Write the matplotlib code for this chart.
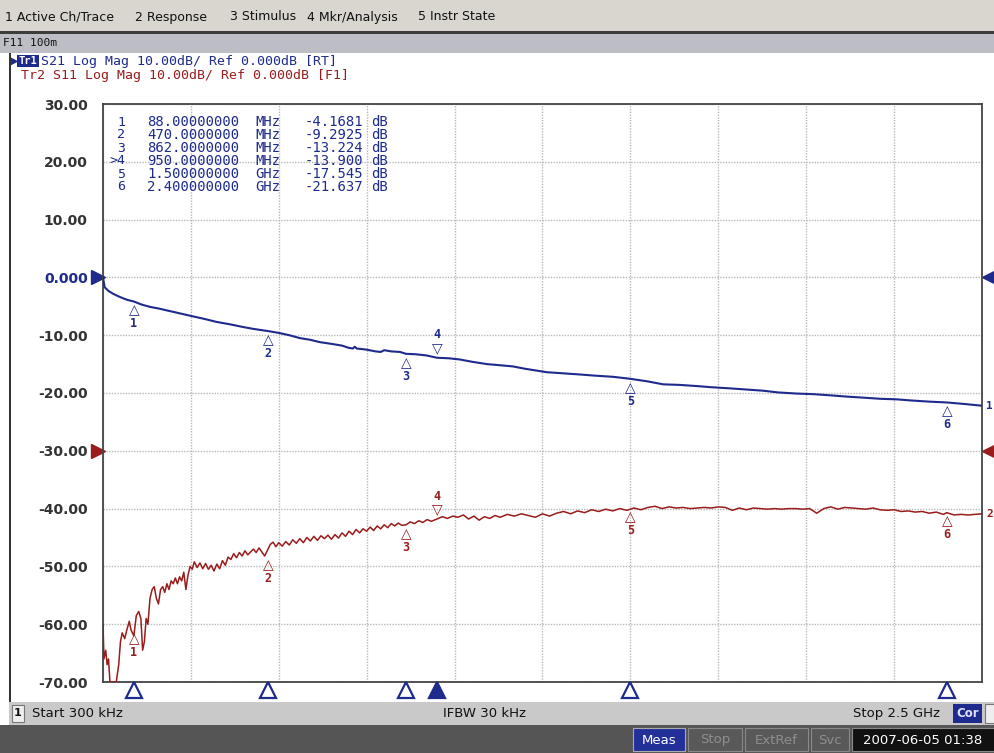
import numpy as np
import matplotlib.pyplot as plt
from matplotlib.patches import Rectangle
import matplotlib.transforms as mtransforms

W, H = 995, 753

# Tr1 S21 (MHz, dB)
s21_mhz = [0.3, 5, 15, 28, 45, 57, 70, 88, 110, 134, 160, 181, 210, 253, 290, 323, 360,
           400, 427, 470, 500, 530, 560, 590, 617, 650, 680, 700, 711, 716, 722, 750, 775,
           790, 800, 820, 845, 862, 890, 920, 950, 985, 1015, 1050, 1092, 1130, 1166, 1200,
           1262, 1310, 1357, 1400, 1451, 1500, 1550, 1593, 1640, 1689, 1730, 1783, 1830,
           1877, 1920, 1974, 2020, 2068, 2110, 2161, 2210, 2258, 2300, 2352, 2400, 2450, 2500]
s21_db = [0.0, -1.7, -2.3, -2.8, -3.3, -3.6, -3.9, -4.17, -4.7, -5.1, -5.4, -5.7, -6.1, -6.7,
          -7.2, -7.7, -8.1, -8.6, -8.9, -9.29, -9.6, -10.0, -10.5, -10.8, -11.2, -11.5, -11.8,
          -12.2, -12.3, -12.0, -12.3, -12.5, -12.8, -12.9, -12.6, -12.8, -12.9, -13.22, -13.3,
          -13.5, -13.9, -14.0, -14.2, -14.6, -15.0, -15.2, -15.4, -15.8, -16.4, -16.6, -16.8,
          -17.0, -17.2, -17.545, -18.0, -18.5, -18.6, -18.8, -19.0, -19.2, -19.4, -19.6, -19.9,
          -20.1, -20.2, -20.4, -20.6, -20.8, -21.0, -21.1, -21.3, -21.5, -21.637, -21.9, -22.2]

# Tr2 S11 (MHz, dB)
s11_mhz = [0.3, 3, 8, 12, 16, 20, 25, 30, 38, 45, 50, 55, 62, 68, 75, 80, 88, 95, 102, 108,
           113, 118, 123, 128, 134, 140, 146, 152, 158, 164, 170, 176, 182, 188, 194, 200, 206,
           212, 218, 224, 230, 236, 242, 248, 254, 260, 268, 276, 284, 292, 300, 308, 316, 324,
           332, 340, 348, 356, 364, 372, 380, 388, 396, 404, 412, 420, 428, 436, 444, 452, 460,
           468, 476, 484, 492, 500, 510, 520, 530, 540, 550, 560, 570, 580, 590, 600, 610, 620,
           630, 640, 650, 660, 670, 680, 690, 700, 710, 720, 730, 740, 750, 760, 770, 780, 790,
           800, 810, 820, 830, 840, 850, 862, 874, 886, 898, 910, 922, 934, 950, 965, 980, 995,
           1010, 1025, 1040, 1055, 1070, 1085, 1100, 1115, 1130, 1150, 1170, 1190, 1210, 1230,
           1250, 1270, 1290, 1310, 1330, 1350, 1370, 1390, 1410, 1430, 1450, 1470, 1490, 1510,
           1530, 1550, 1570, 1590, 1610, 1630, 1650, 1670, 1690, 1710, 1730, 1750, 1770, 1790,
           1810, 1830, 1850, 1870, 1890, 1910, 1930, 1950, 1970, 1990, 2010, 2030, 2050, 2070,
           2090, 2110, 2130, 2150, 2170, 2190, 2210, 2230, 2250, 2270, 2290, 2310, 2330, 2350,
           2370, 2390, 2400, 2420, 2440, 2460, 2480, 2500]
s11_db = [-60, -66, -64.5, -67, -66, -70, -70, -70, -70, -67, -63, -61.5, -62.5, -61, -59.5,
          -61, -62, -58.5, -57.8, -59, -64.5, -63, -59, -60, -55.5, -54, -53.5, -55.5, -56.5,
          -54, -53.5, -54.5, -53, -54, -52.5, -53, -52, -53, -51.8, -52.5, -51, -54, -51.5, -50,
          -50.5, -49.2, -50.2, -49.4, -50.4, -49.5, -50.5, -49.8, -50.8, -49.6, -50.4, -49,
          -49.8, -48.4, -48.8, -47.8, -48.5, -47.6, -48.2, -47.3, -48, -47.5, -47, -47.6, -46.8,
          -47.5, -48.2, -47.2, -46.2, -45.8, -46.6, -45.9, -46.5, -45.7, -46.3, -45.4, -46,
          -45.2, -45.9, -45, -45.6, -44.8, -45.5, -44.7, -45.2, -44.6, -45.3, -44.5, -45.1,
          -44.2, -44.8, -43.9, -44.5, -43.6, -44.2, -43.5, -43.9, -43.2, -43.8, -43, -43.5,
          -42.8, -43.3, -42.6, -43, -42.5, -42.9, -42.8, -42.3, -42.6, -42.1, -42.4, -41.9,
          -42.2, -41.8, -41.4, -41.7, -41.3, -41.5, -41.1, -41.8, -41.3, -42, -41.4, -41.7,
          -41.2, -41.5, -41, -41.3, -40.9, -41.2, -41.5, -40.9, -41.3, -40.8, -40.5, -40.9,
          -40.4, -40.7, -40.2, -40.5, -40.1, -40.4, -40, -40.3, -39.9, -40.2, -39.8, -39.6, -40,
          -39.7, -39.9, -39.8, -40, -39.9, -39.8, -39.9, -39.7, -39.8, -40.3, -39.9, -40.2,
          -39.9, -40, -40.1, -40, -40.1, -40, -40, -40.1, -40, -40.8, -40, -39.7, -40.1, -39.8,
          -39.9, -40, -40.1, -39.9, -40.2, -40.3, -40.2, -40.5, -40.4, -40.6, -40.5, -40.8,
          -40.6, -41, -40.7, -41.1, -41, -41.1, -41, -40.9]

mkr_num = ['1', '2', '3', '4', '5', '6']
mkr_mhz = [88, 470, 862, 950, 1500, 2400]
mkr_s21 = [-4.1681, -9.2925, -13.224, -13.900, -17.545, -21.637]
mkr_s11 = [-61.0, -48.3, -42.8, -41.8, -40.0, -40.7]
mkr_freq_txt = ['88.00000000', '470.0000000', '862.0000000', '950.0000000',
                '1.500000000', '2.400000000']
mkr_unit = ['MHz', 'MHz', 'MHz', 'MHz', 'GHz', 'GHz']
mkr_val_txt = ['-4.1681', '-9.2925', '-13.224', '-13.900', '-17.545', '-21.637']
active_mkr = 3

ytick_vals = [30, 20, 10, 0, -10, -20, -30, -40, -50, -60, -70]
ytick_txt = ['30.00', '20.00', '10.00', '0.000', '-10.00', '-20.00', '-30.00',
             '-40.00', '-50.00', '-60.00', '-70.00']

BLUE = '#1e2a8c'
RED = '#9a1c1c'
MONO = 'DejaVu Sans Mono'


def fx(x):
    return x / W


def fy(y):
    return 1 - y / H


fig = plt.figure(figsize=(W / 100, H / 100), dpi=100, facecolor='white')


def box(x0, y0, x1, y1, color, ec='none', lw=0):
    fig.add_artist(Rectangle((fx(x0), fy(y1)), (x1 - x0) / W, (y1 - y0) / H,
                             transform=fig.transFigure, facecolor=color,
                             edgecolor=ec, linewidth=lw))


def ftext(x, y, s, **kw):
    kw.setdefault('va', 'center')
    fig.text(fx(x), fy(y), s, **kw)


# menu bar
box(0, 0, W, 31, '#d9d6cf')
box(0, 31, W, 34, '#3c3c3c')
for xx, s in [(5, '1 Active Ch/Trace'), (135, '2 Response'), (230, '3 Stimulus'),
              (307, '4 Mkr/Analysis'), (418, '5 Instr State')]:
    ftext(xx, 17, s, fontsize=9.0, color='#111111', family='DejaVu Sans')

# channel title bar
box(0, 34, W, 53, '#bdbdc6')
ftext(3, 43, 'F11 100m', fontsize=8, color='#111111', family=MONO)
box(9, 53, 11, 702, '#333333')

# trace headers
box(17, 55, 39, 67, BLUE)
ftext(11, 61, '\u25b6', fontsize=7, color=BLUE)
ftext(18.5, 61, 'Tr1', fontsize=7.5, color='white', family=MONO, weight='bold')
ftext(41, 61, 'S21 Log Mag 10.00dB/ Ref 0.000dB [RT]', fontsize=9.5, color=BLUE, family=MONO)
ftext(21, 75, 'Tr2 S11 Log Mag 10.00dB/ Ref 0.000dB [F1]', fontsize=9.5, color=RED,
      family=MONO)

# plot area
ax = fig.add_axes([fx(103), fy(682), (982 - 103) / W, (682 - 104) / H])
ax.set_xlim(0.3, 2500)
ax.set_ylim(-70, 30)
ax.set_xticks(np.linspace(0.3, 2500, 11))
ax.set_yticks(ytick_vals)
ax.set_yticklabels(ytick_txt)
ax.tick_params(length=0, labelbottom=False, pad=11)
for lab, v in zip(ax.get_yticklabels(), ytick_vals):
    lab.set_fontsize(10)
    lab.set_fontweight('bold')
    lab.set_color(BLUE if v == 0 else '#333333')
ax.grid(True, color='#b8b8b8', linestyle=(0, (1, 1)), linewidth=1)
for sp in ax.spines.values():
    sp.set_color('#444444')
    sp.set_linewidth(1.3)

ax.plot(s21_mhz, s21_db, color=BLUE, lw=1.5, zorder=3)
ax.plot(s11_mhz, s11_db, color=RED, lw=1.1, zorder=3)

# markers on traces
for i, (f, a, b) in enumerate(zip(mkr_mhz, mkr_s21, mkr_s11)):
    for val, col in [(a, BLUE), (b, RED)]:
        if i == active_mkr:
            ax.annotate('\u25bd', (f, val), xytext=(0, 7), textcoords='offset points',
                        ha='center', va='center', fontsize=10, color=col, zorder=5)
            ax.annotate(mkr_num[i], (f, val), xytext=(0, 16.5), textcoords='offset points',
                        ha='center', va='center', fontsize=8.5, color=col, family=MONO,
                        weight='bold', zorder=5)
        else:
            ax.annotate('\u25b3', (f, val), xytext=(0, -6.5), textcoords='offset points',
                        ha='center', va='center', fontsize=10, color=col, zorder=5)
            ax.annotate(mkr_num[i], (f, val), xytext=(0, -16), textcoords='offset points',
                        ha='center', va='center', fontsize=8.5, color=col, family=MONO,
                        weight='bold', zorder=5)

# marker readout table
for i in range(len(mkr_num)):
    yy = 122 + i * 13.0
    tag = '>' + mkr_num[i] if i == active_mkr else mkr_num[i]
    ftext(125, yy, tag, fontsize=9.5, color=BLUE, family=MONO, ha='right')
    ftext(147, yy, mkr_freq_txt[i], fontsize=10, color=BLUE, family=MONO)
    ftext(255, yy, mkr_unit[i], fontsize=10, color=BLUE, family=MONO)
    ftext(363, yy, mkr_val_txt[i], fontsize=10, color=BLUE, family=MONO, ha='right')
    ftext(371, yy, 'dB', fontsize=10, color=BLUE, family=MONO)

# stimulus marker triangles below grid
tb = mtransforms.blended_transform_factory(ax.transData, ax.transAxes)
for i, f in enumerate(mkr_mhz):
    ax.plot([f], [-8 / 578], marker='^', markersize=11, transform=tb, clip_on=False,
            mfc=BLUE if i == active_mkr else 'white', mec=BLUE, mew=1.6, zorder=6)

# reference level arrows
ty = mtransforms.blended_transform_factory(ax.transAxes, ax.transData)
for ref, col in [(0, BLUE), (-30, RED)]:
    ax.plot([-5 / 879], [ref], marker='>', markersize=10, color=col, transform=ty,
            clip_on=False)
    ax.plot([1 + 7 / 879], [ref], marker='<', markersize=10, color=col, transform=ty,
            clip_on=False)
ax.text(1 + 4 / 879, s21_db[-1], '1', transform=ty, fontsize=8, color=BLUE, family=MONO,
        weight='bold', va='center', clip_on=False)
ax.text(1 + 4 / 879, s11_db[-1], '2', transform=ty, fontsize=8, color=RED, family=MONO,
        weight='bold', va='center', clip_on=False)

# status line
box(9, 702, W, 725, '#c9c9c9')
box(12, 705, 24, 722, '#eeeeee', ec='#777777', lw=0.8)
ftext(18, 713.5, '1', fontsize=8, color='#111111', ha='center', weight='bold')
ftext(32, 713.5, 'Start 300 kHz', fontsize=9.5, color='#111111')
ftext(443, 713.5, 'IFBW 30 kHz', fontsize=9.5, color='#111111')
ftext(853, 713.5, 'Stop 2.5 GHz', fontsize=9.5, color='#111111')
box(953, 704, 982, 723, '#1f2a8f')
ftext(967.5, 713.5, 'Cor', fontsize=8.5, color='#dde0ff', ha='center', weight='bold')
box(985, 704, W, 723, '#eeeeee', ec='#777777', lw=0.8)

# bottom instrument bar
box(0, 725, W, 753, '#555555')
box(633, 728, 685, 751, '#24309a', ec='#aaaaaa', lw=0.8)
ftext(659, 740, 'Meas', fontsize=9.5, color='white', ha='center')
for x0, x1, s in [(688, 742, 'Stop'), (745, 808, 'ExtRef'), (811, 849, 'Svc')]:
    box(x0, 728, x1, 751, '#595959', ec='#8a8a8a', lw=0.8)
    ftext((x0 + x1) / 2, 740, s, fontsize=9.5, color='#8e8e8e', ha='center')
box(852, 728, W, 751, '#111111', ec='#8a8a8a', lw=0.8)
ftext(923, 740, '2007-06-05 01:38', fontsize=9.5, color='white', ha='center')

fig.savefig('out.png', dpi=100, facecolor='white')
